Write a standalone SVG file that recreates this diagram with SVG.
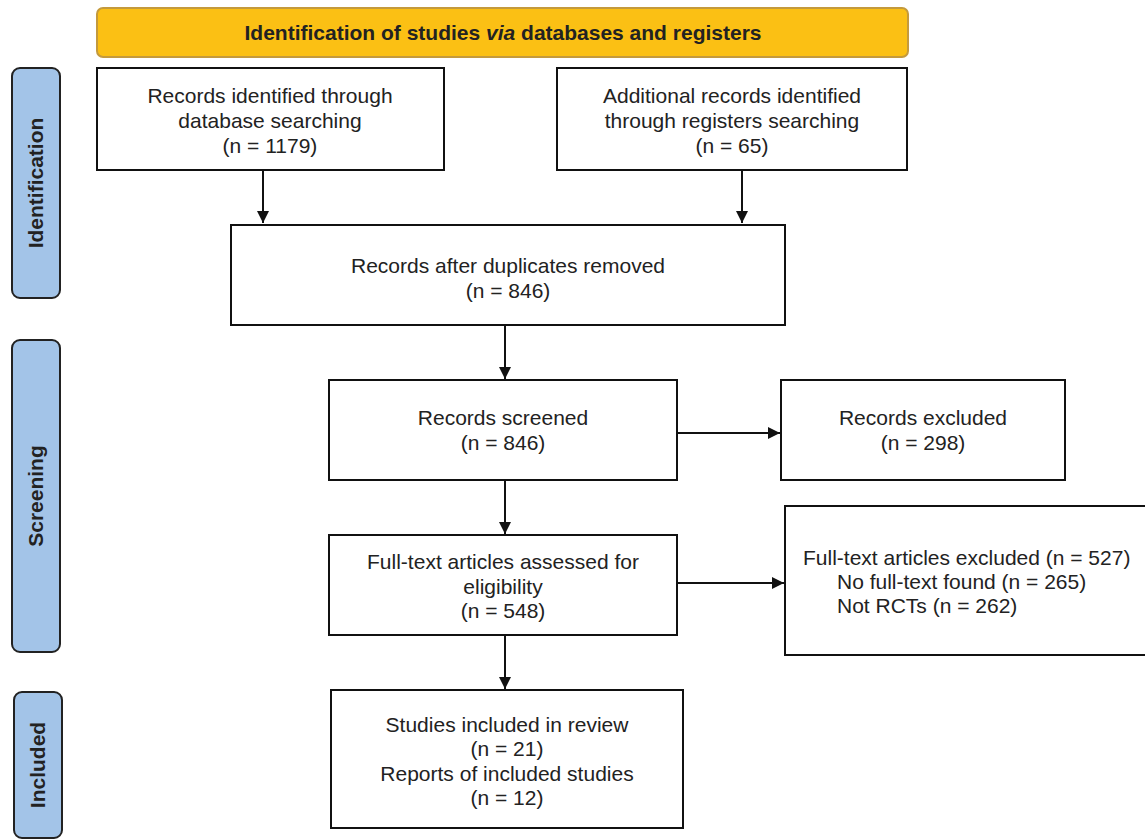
<svg xmlns="http://www.w3.org/2000/svg" width="1145" height="840" viewBox="0 0 1145 840">
<defs>
<marker id="ah" viewBox="0 0 10 10" refX="10" refY="5" markerWidth="13" markerHeight="12" markerUnits="userSpaceOnUse" orient="auto">
<path d="M0,0 L10,5 L0,10 z" fill="#111"/>
</marker>
<style>
.box{fill:#fff;stroke:#111;stroke-width:2}
.side{fill:#a3c4e8;stroke:#222;stroke-width:2}
.t{font-family:"Liberation Sans",Arial,sans-serif;font-size:21px;fill:#222;text-anchor:middle}
.tl{font-family:"Liberation Sans",Arial,sans-serif;font-size:21px;fill:#222}
.st{font-family:"Liberation Sans",Arial,sans-serif;font-size:21px;font-weight:bold;fill:#222;text-anchor:middle}
.conn line{stroke:#111;stroke-width:2;marker-end:url(#ah)}
</style>
</defs>
<rect width="1145" height="840" fill="#fff"/>
<g id="header">
<rect x="97" y="8" width="811" height="49" rx="6" fill="#fbc014" stroke="#c49a3c" stroke-width="2"/>
<text x="503" y="40" class="st" style="font-size:21px">Identification of studies <tspan font-style="italic">via</tspan> databases and registers</text>
</g>
<g id="side-identification">
<rect x="12" y="68" width="48" height="230" rx="8" class="side"/>
<text class="st" transform="translate(43,183) rotate(-90)">Identification</text>
</g>
<g id="side-screening">
<rect x="12" y="340" width="48" height="312" rx="8" class="side"/>
<text class="st" transform="translate(43,496) rotate(-90)">Screening</text>
</g>
<g id="side-included">
<rect x="14" y="692" width="48" height="146" rx="8" class="side"/>
<text class="st" transform="translate(45,765) rotate(-90)">Included</text>
</g>
<g id="n-db">
<rect x="97" y="68" width="347" height="102" class="box"/>
<text class="t" x="270" y="103">Records identified through</text>
<text class="t" x="270" y="128">database searching</text>
<text class="t" x="270" y="153">(n = 1179)</text>
</g>
<g id="n-reg">
<rect x="557" y="68" width="350" height="102" class="box"/>
<text class="t" x="732" y="103">Additional records identified</text>
<text class="t" x="732" y="128">through registers searching</text>
<text class="t" x="732" y="153">(n = 65)</text>
</g>
<g id="n-dup">
<rect x="231" y="225" width="554" height="100" class="box"/>
<text class="t" x="508" y="273">Records after duplicates removed</text>
<text class="t" x="508" y="298">(n = 846)</text>
</g>
<g id="n-screened">
<rect x="329" y="380" width="348" height="100" class="box"/>
<text class="t" x="503" y="425">Records screened</text>
<text class="t" x="503" y="450">(n = 846)</text>
</g>
<g id="n-excluded">
<rect x="781" y="380" width="284" height="100" class="box"/>
<text class="t" x="923" y="425">Records excluded</text>
<text class="t" x="923" y="450">(n = 298)</text>
</g>
<g id="n-fulltext">
<rect x="329" y="535" width="348" height="100" class="box"/>
<text class="t" x="503" y="569">Full-text articles assessed for</text>
<text class="t" x="503" y="594">eligibility</text>
<text class="t" x="503" y="618">(n = 548)</text>
</g>
<g id="n-ftexcluded">
<rect x="785" y="506" width="362" height="149" class="box"/>
<text class="tl" x="803" y="565">Full-text articles excluded (n = 527)</text>
<text class="tl" x="837" y="589">No full-text found (n = 265)</text>
<text class="tl" x="837" y="613">Not RCTs (n = 262)</text>
</g>
<g id="n-included">
<rect x="331" y="690" width="352" height="138" class="box"/>
<text class="t" x="507" y="732">Studies included in review</text>
<text class="t" x="507" y="756">(n = 21)</text>
<text class="t" x="507" y="781">Reports of included studies</text>
<text class="t" x="507" y="805">(n = 12)</text>
</g>
<g id="connectors" class="conn">
<line x1="263" y1="170" x2="263" y2="223"/>
<line x1="742" y1="170" x2="742" y2="223"/>
<line x1="505" y1="325" x2="505" y2="379"/>
<line x1="677" y1="433" x2="780" y2="433"/>
<line x1="505" y1="480" x2="505" y2="534"/>
<line x1="677" y1="583" x2="784" y2="583"/>
<line x1="505" y1="635" x2="505" y2="689"/>
</g>
</svg>
